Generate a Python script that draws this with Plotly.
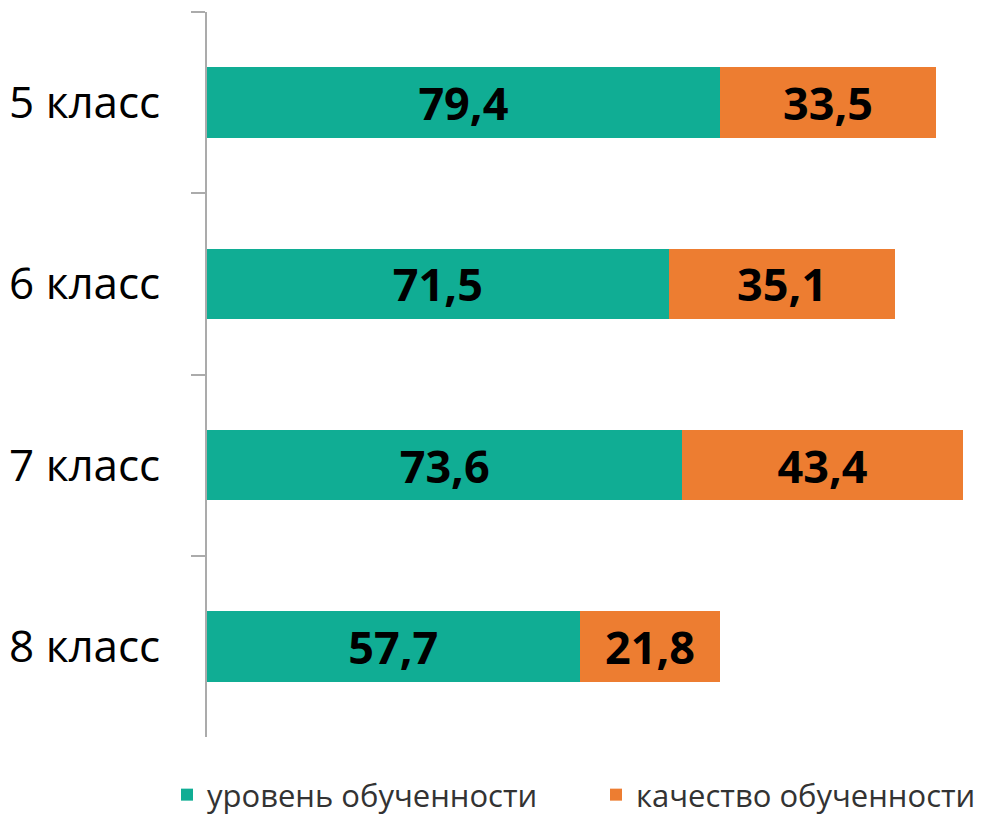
import plotly.graph_objects as go

categories = ["5 класс", "6 класс", "7 класс", "8 класс"]
level = [79.4, 71.5, 73.6, 57.7]
quality = [33.5, 35.1, 43.4, 21.8]
series_names = ["уровень обученности", "качество обученности"]
colors = ["#10AD94", "#ED7D31"]

W, H = 985, 808

fig = go.Figure()
for i, (name, vals, col) in enumerate(zip(series_names, [level, quality], colors)):
    fig.add_trace(go.Bar(
        y=categories, x=vals, name=name, orientation="h",
        marker=dict(color=col, line=dict(width=0)),
        width=0.39,
        texttemplate="<b>%{x:.1f}</b>", textposition="inside",
        insidetextanchor="middle",
        textfont=dict(family="Open Sans", size=45, color="black"),
        legend="legend" if i == 0 else "legend2",
    ))

leg_common = dict(orientation="h", xref="container", yref="container",
                  xanchor="left", y=1 - 760/H, yanchor="top",
                  font=dict(family="Open Sans", size=31, color="#333333"),
                  itemwidth=30)

fig.update_layout(
    barmode="stack",
    separators=", ",
    width=W, height=H,
    margin=dict(l=199, r=11, t=4, b=79),
    plot_bgcolor="white", paper_bgcolor="white",
    showlegend=True,
    legend=dict(x=159/W, **leg_common),
    legend2=dict(x=588/W, **leg_common),
    uniformtext=dict(mode=False),
)
fig.update_xaxes(range=[0, 120], visible=False, showgrid=False, automargin=False)
fig.update_yaxes(
    autorange="reversed", showgrid=False, automargin=False,
    showline=True, linecolor="#ABABAB", linewidth=2,
    ticks="outside", tickson="boundaries", ticklen=14, tickcolor="#ABABAB", tickwidth=2,
    ticklabelstandoff=36,
    tickfont=dict(family="Open Sans", size=44, color="black"),
)
fig.write_html("out.html")
